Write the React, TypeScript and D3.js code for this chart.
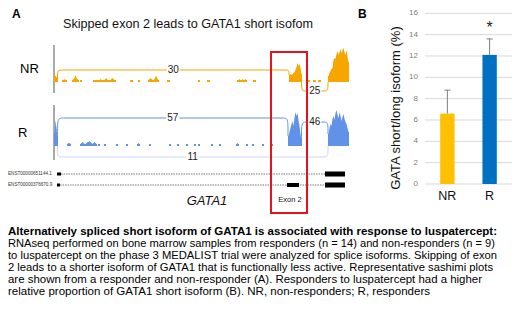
import React from 'react';
import * as d3 from 'd3';

// ---------- Panel B data ----------
const groups = ['NR', 'R'];
const ratioMean = [6.6, 12.1];
const ratioErr = [2.2, 1.5];
const significance = ['', '*'];
const yAxisTitle = 'GATA short/long isoform (%)';

// ---------- Panel A data ----------
const panelTitle = 'Skipped exon 2 leads to GATA1 short isofom';
const geneName = 'GATA1';
const exonLabel = 'Exon 2';
// coverage: [start position, read depth per position]
const nrCoverage: [number, number[]][] = [
  [0, [7, 6, 5, 3]],
  [8, [2, 2, 3, 2, 2]],
  [18, [2, 3, 4, 7, 4, 3, 2]],
  [26, [2, 2]],
  [39, [2, 2, 2, 2, 2, 2, 2, 3, 2, 2, 2, 2, 3, 4, 2, 2, 2, 2, 3, 4, 3, 2, 2]],
  [76, [2, 2, 2]],
  [84, [2, 2]],
  [94, [2, 3, 4, 3, 2, 2, 3, 5, 6, 3, 2]],
  [113, [2, 2, 2]],
  [144, [2, 2]],
  [153, [2, 2, 2]],
  [183, [2, 2, 3, 2, 2, 3, 2, 2, 3, 2]],
  [199, [2, 2, 2]],
  [235, [7, 8, 7, 8, 9, 10, 12, 15, 19, 16, 18, 14, 8]],
  [254, [2, 2]],
  [259, [2, 2, 2]],
  [264, [2, 2, 2]],
  [274, [6, 9, 11, 13, 14, 22, 24, 23, 28, 31, 27, 30, 33, 29, 32, 34, 30, 27, 32, 25, 20]],
];
const rCoverage: [number, number[]][] = [
  [0, [12, 26, 18, 8]],
  [13, [2, 3, 3, 2]],
  [26, [2, 3, 4, 3, 2, 2, 3, 4, 4, 5, 4, 3, 2, 3, 4, 3, 2]],
  [44, [2, 2]],
  [50, [2, 2]],
  [62, [2, 2]],
  [72, [2, 2]],
  [83, [2, 3, 2]],
  [95, [2, 2]],
  [115, [2, 2]],
  [123, [2, 2]],
  [132, [2, 2]],
  [140, [2, 2]],
  [144, [2, 2]],
  [157, [2, 2]],
  [165, [2, 2]],
  [182, [2, 3, 2]],
  [192, [2, 2]],
  [198, [2, 2]],
  [208, [2, 2]],
  [217, [2, 2]],
  [234, [10, 14, 18, 22, 25, 20, 28, 34, 30, 33, 26, 20, 12, 6]],
  [274, [12, 18, 22, 20, 27, 30, 26, 33, 36, 31, 28, 34, 30, 25, 29, 32, 27, 24, 22, 18, 14]],
];
// junctions: from, to, read count, drawn above (1) or below (-1)
const nrJunctions = [
  { from: 3, to: 235, count: 30, side: 1 },
  { from: 247, to: 274, count: 25, side: -1 },
];
const rJunctions = [
  { from: 3, to: 234, count: 57, side: 1 },
  { from: 247, to: 274, count: 46, side: 1 },
  { from: 3, to: 274, count: 11, side: -1 },
];
const transcripts = [
  { id: 'ENST00000651144.1', exons: [[3, 7], [271, 291]] },
  { id: 'ENST00000376670.9', exons: [[3, 6], [233, 245], [271, 291]] },
];
const captionBold = 'Alternatively spliced short isoform of GATA1 is associated with response to luspatercept:';
const captionLines = [
  'RNAseq performed on bone marrow samples from responders (n = 14) and non-responders (n = 9)',
  'to luspatercept on the phase 3 MEDALIST trial were analyzed for splice isoforms. Skipping of exon',
  '2 leads to a shorter isoform of GATA1 that is functionally less active. Representative sashimi plots',
  'are shown from a responder and non-responder (A). Responders to luspatercept had a higher',
  'relative proportion of GATA1 short isoform (B). NR, non-responders; R, responders',
];

const FONT = '"Liberation Sans", Arial, Helvetica, sans-serif';

function depthAt(cov: [number, number[]][], pos: number) {
  for (const [s, hs] of cov) {
    if (pos >= s && pos < s + hs.length) return hs[pos - s];
  }
  return 0;
}

function Track({ cov, juncs, base, color, belowColor, name, lifts, nameX }: any) {
  const x = d3.scaleLinear().domain([0, 296]).range([54, 350]);
  const y = d3.scaleLinear().domain([0, 40]).range([base, base - 40]);
  const area = d3
    .area<[number, number]>()
    .x((d) => x(d[0]))
    .y0(base)
    .y1((d) => y(d[1]));
  return (
    <g>
      <text x={nameX} y={base - 12} fontSize={13} fontFamily={FONT} dominantBaseline="middle">
        {name}
      </text>
      {cov.map(([s, hs]: [number, number[]], i: number) => {
        const pts: [number, number][] = [[s, hs[0]], ...hs.map((h, k) => [s + k + 0.5, h] as [number, number]), [s + hs.length, hs[hs.length - 1]]];
        return <path key={i} d={area(pts) || ''} fill={color} />;
      })}
      {juncs.map((j: any, i: number) => {
        const x1 = x(j.from + 0.5);
        const x2 = x(j.to);
        const y1 = j.side > 0 ? y(depthAt(cov, j.from)) : base;
        const y2 = j.side > 0 ? y(depthAt(cov, j.to)) : base;
        const ya = j.side > 0 ? base - lifts[i] : base + lifts[i];
        const k = 6;
        const d = `M${x1},${y1} C${x1},${ya} ${x1},${ya} ${x1 + k},${ya} L${x2 - k},${ya} C${x2},${ya} ${x2},${ya} ${x2},${y2}`;
        const mx = (x1 + x2) / 2;
        const lc = j.side > 0 ? color : belowColor;
        const tw = String(j.count).length * 5.6 + 2;
        return (
          <g key={'j' + i}>
            <path d={d} fill="none" stroke={lc} strokeWidth={1} />
            <rect x={mx - tw / 2} y={ya - 5} width={tw} height={10} fill="#fff" />
            <text x={mx} y={ya} fontSize={10} fontFamily={FONT} textAnchor="middle" dominantBaseline="middle" fill="#222">
              {j.count}
            </text>
          </g>
        );
      })}
    </g>
  );
}

export default function App() {
  const W = 520;
  const H = 312;
  const x = d3.scaleLinear().domain([0, 296]).range([54, 350]);

  // Panel B scales
  const yB = d3.scaleLinear().domain([0, 16]).range([184, 13.3]);
  const xB = d3.scaleBand<string>().domain(groups).range([425, 512]).paddingInner(0.66).paddingOuter(0.36);
  const ticks = yB.ticks(8);

  // caption line widths (layout)
  const boldWidth = 489;
  const lineWidths = [487, 489, 485, 474, 422];

  return (
    <svg width={W} height={H} style={{ position: 'absolute', left: 0, top: 0, background: '#fff' }} fontFamily={FONT}>
      <rect width={W} height={H} fill="#fff" />
      {/* Panel A */}
      <text x={12} y={18} fontSize={12} fontWeight="bold">A</text>
      <text x={63} y={28} fontSize={12} textLength={250} lengthAdjust="spacingAndGlyphs" fill="#111">{panelTitle}</text>

      <line x1={54} x2={54} y1={45} y2={93} stroke="#555" strokeWidth={1} />
      <line x1={54} x2={54} y1={105} y2={160} stroke="#555" strokeWidth={1} />

      <Track cov={nrCoverage} juncs={nrJunctions} base={82} color="#F7A600" belowColor="#F7A600" name="NR" nameX={20} lifts={[12, 9]} />
      <Track cov={rCoverage} juncs={rJunctions} base={146} color="#6192E8" belowColor="#C8D8F6" name="R" nameX={18} lifts={[28, 24, 11]} />

      {transcripts.map((t, i) => {
        const yy = 174 + i * 11;
        const first = t.exons[0][1];
        const last = t.exons[t.exons.length - 1][0];
        return (
          <g key={t.id}>
            <text x={8} y={yy} fontSize={4.6} dominantBaseline="middle" fill="#333">{t.id}</text>
            <line x1={x(first)} x2={x(last)} y1={yy} y2={yy} stroke="#555" strokeWidth={0.8} strokeDasharray="1.5,1" />
            {t.exons.map((e, k) => {
              const h = k === 0 ? 3 : k === t.exons.length - 1 ? 5 : 4;
              return <rect key={k} x={x(e[0])} y={yy - h / 2} width={x(e[1]) - x(e[0])} height={h} fill="#000" />;
            })}
          </g>
        );
      })}

      <text x={207} y={205} fontSize={13} fontStyle="italic" textAnchor="middle" fill="#111">{geneName}</text>
      <text x={290} y={202} fontSize={7.5} textAnchor="middle" fill="#111">{exonLabel}</text>
      <rect x={271} y={52} width={36} height={161} fill="none" stroke="#E3151C" strokeWidth={2} />

      {/* Panel B */}
      <text x={358} y={18} fontSize={12} fontWeight="bold">B</text>
      {ticks.map((t) => (
        <g key={t}>
          <line x1={425} x2={512} y1={yB(t)} y2={yB(t)} stroke="#D9D9D9" strokeWidth={1} />
          <text x={418} y={yB(t)} fontSize={8} textAnchor="end" dominantBaseline="middle" fill="#808080">{t}</text>
        </g>
      ))}
      <text transform={`translate(397,${108}) rotate(-90)`} fontSize={13} textAnchor="middle" dominantBaseline="middle" fill="#111">
        {yAxisTitle}
      </text>
      {groups.map((g, i) => {
        const bx = xB(g) || 0;
        const bw = xB.bandwidth();
        const cx = bx + bw / 2;
        return (
          <g key={g}>
            <rect x={bx} y={yB(ratioMean[i])} width={bw} height={yB(0) - yB(ratioMean[i])} fill={i === 0 ? '#FFC000' : '#0070C0'} />
            <line x1={cx} x2={cx} y1={yB(ratioMean[i])} y2={yB(ratioMean[i] + ratioErr[i])} stroke="#7F7F7F" strokeWidth={1} />
            <line x1={cx - 3} x2={cx + 3} y1={yB(ratioMean[i] + ratioErr[i])} y2={yB(ratioMean[i] + ratioErr[i])} stroke="#7F7F7F" strokeWidth={1} />
            {significance[i] && (
              <text x={cx} y={33} fontSize={16} textAnchor="middle" fill="#222">{significance[i]}</text>
            )}
            <text x={cx} y={200} fontSize={12.5} textAnchor="middle" fill="#111">{g}</text>
          </g>
        );
      })}

      {/* Caption */}
      <text x={8} y={234.5} fontSize={11} fontWeight="bold" fill="#000" textLength={boldWidth} lengthAdjust="spacingAndGlyphs">{captionBold}</text>
      {captionLines.map((l, i) => (
        <text key={i} x={8} y={246.6 + i * 12.1} fontSize={11} fill="#000" textLength={lineWidths[i]} lengthAdjust="spacingAndGlyphs">{l}</text>
      ))}
    </svg>
  );
}
